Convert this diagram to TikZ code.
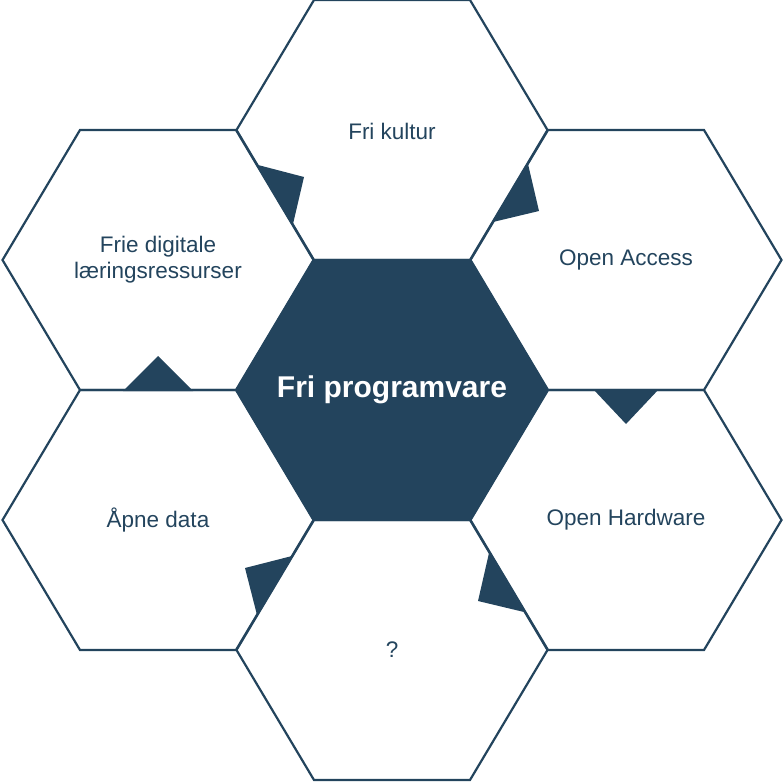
\documentclass[tikz,border=0pt]{standalone}
\usepackage{fontspec}
\setmainfont{Liberation Sans}
\definecolor{navy}{HTML}{23445D}
\tikzset{
  hexline/.style={draw=navy, line width=2.2pt, line join=miter},
  hexfill/.style={hexline, fill=navy},
  lbl/.style={text=navy, font=\fontsize{22.5}{26}\selectfont, align=center, inner sep=0pt},
  mainlbl/.style={text=white, font=\bfseries\fontsize{30}{36}\selectfont, inner sep=0pt},
  tab/.style={fill=navy, draw=none}
}
\newcommand{\myhex}[3]{\draw[#3] (#1,#2) ++(-155.5,0) -- ++(77.5,-130) -- ++(156,0) -- ++(77.5,130) -- ++(-77.5,130) -- ++(-156,0) -- cycle;}
\begin{document}
\begin{tikzpicture}[x=1pt,y=-1pt]
\useasboundingbox (0,0) rectangle (783,783);
\myhex{392}{130}{hexline}
\myhex{158}{260}{hexline}
\myhex{626}{260}{hexline}
\myhex{158}{520}{hexline}
\myhex{626}{520}{hexline}
\myhex{392}{650}{hexline}
\myhex{392}{390}{hexfill}
% tabs between neighbouring cells
\fill[tab] (258,165) -- (304,177) -- (293,224) -- cycle;
\fill[tab] (528,164) -- (539,211) -- (493,222) -- cycle;
\fill[tab] (123,391) -- (158,356) -- (193,391) -- cycle;
\fill[tab] (593,389) -- (626,424) -- (659,389) -- cycle;
\fill[tab] (292,556) -- (245,568) -- (257,615) -- cycle;
\fill[tab] (489,553) -- (478,601) -- (524,612) -- cycle;
% labels
\node[mainlbl] (fri) at (392,390) {Fri programvare};
\node[lbl] (kultur) at (392,131) {Fri kultur};
\node[lbl] (digi) at (158,260) {Frie digitale\\læringsressurser};
\node[lbl] (access) at (626,260) {Open Access};
\node[lbl] (data) at (158,520) {Åpne data};
\node[lbl] (hard) at (626,520) {Open Hardware};
\node[lbl] (q) at (392,650) {?};
\end{tikzpicture}
\end{document}
